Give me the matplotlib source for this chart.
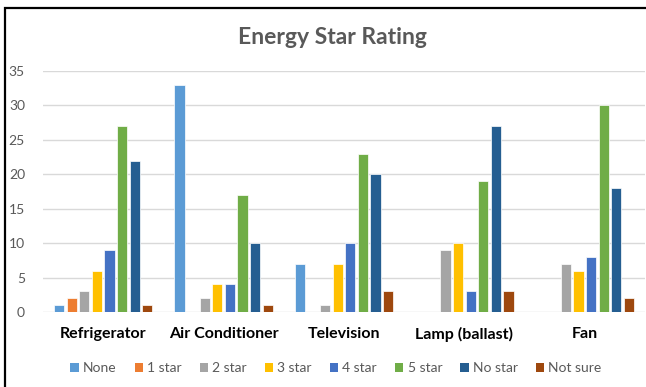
import matplotlib
matplotlib.use("Agg")
import matplotlib.pyplot as plt
from matplotlib.patches import Rectangle, Patch
import numpy as np

plt.rcParams['font.family'] = ['Lato', 'DejaVu Sans']

# survey counts per appliance
appliances = ["Refrigerator", "Air Conditioner", "Television", "Lamp (ballast)", "Fan"]
ratings = ["None", "1 star", "2 star", "3 star", "4 star", "5 star", "No star", "Not sure"]
none_star = [1, 33, 7, 0, 0]
one_star = [2, 0, 0, 0, 0]
two_star = [3, 2, 1, 9, 7]
three_star = [6, 4, 7, 10, 6]
four_star = [9, 4, 10, 3, 8]
five_star = [27, 17, 23, 19, 30]
no_star = [22, 10, 20, 27, 18]
not_sure = [1, 1, 3, 3, 2]
series = [none_star, one_star, two_star, three_star, four_star, five_star, no_star, not_sure]

colors = ["#5B9BD5", "#ED7D31", "#A5A5A5", "#FFC000",
          "#4472C4", "#70AD47", "#255E91", "#9E480E"]

W, H = 646, 387
fig = plt.figure(figsize=(W / 100, H / 100), dpi=100)
ax = fig.add_axes([43 / W, (H - 312) / H, 602 / W, 241 / H])

step = 0.1047
bar_w = 0.085
x = np.arange(len(appliances))
for i, (vals, c) in enumerate(zip(series, colors)):
    offs = (i - 3.5) * step
    ax.bar(x + offs, vals, width=bar_w, color=c, edgecolor="white",
           linewidth=0.5, zorder=3)

ax.set_xlim(-0.5, len(appliances) - 0.5)
ax.set_ylim(0, 35)
ax.set_yticks(range(0, 36, 5))
ax.yaxis.grid(True, color="#D9D9D9", linewidth=1, zorder=0)
ax.set_axisbelow(True)
for s in ax.spines.values():
    s.set_visible(False)
ax.tick_params(axis="y", length=0, pad=13, labelsize=10, labelcolor="#595959")
ax.tick_params(axis="x", length=0, pad=11, labelsize=11.5)
ax.set_xticks(x)
ax.set_xticklabels(appliances, fontweight="bold", color="black")

fig.text(332 / W, 1 - 37 / H, "Energy Star Rating", ha="center", va="center",
         fontsize=16.5, fontweight="bold", color="#595959")

handles = [Patch(facecolor=c, label=r) for c, r in zip(colors, ratings)]
fig.legend(handles=handles, loc="center", bbox_to_anchor=(336 / W, 1 - 368 / H),
           ncol=8, frameon=False, fontsize=10, handlelength=0.6, handleheight=0.6,
           handletextpad=0.3, columnspacing=1.3, labelcolor="#595959")

# chart frame
fig.patches.append(Rectangle((5 / W, -0.1), 1.2, 1 - 8 / H + 0.1, transform=fig.transFigure,
                             fill=False, edgecolor="black", linewidth=1.6))

fig.savefig("out.png", dpi=100)
